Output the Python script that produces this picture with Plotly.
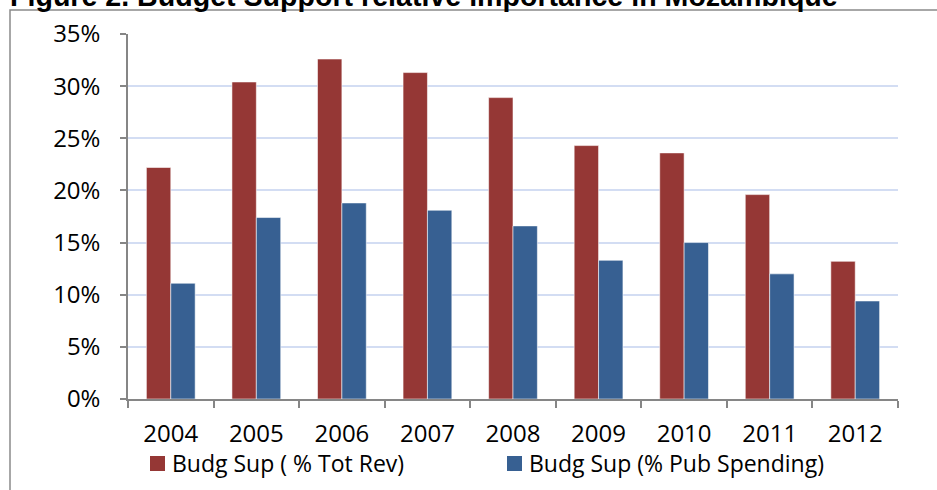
import plotly.graph_objects as go

years = ["2004", "2005", "2006", "2007", "2008", "2009", "2010", "2011", "2012"]
tot_rev = [22.2, 30.4, 32.6, 31.3, 28.9, 24.3, 23.6, 19.6, 13.2]
pub_spending = [11.1, 17.4, 18.8, 18.1, 16.6, 13.3, 15.0, 12.0, 9.4]
y_ticks = [0, 5, 10, 15, 20, 25, 30, 35]
y_tick_labels = ["0%", "5%", "10%", "15%", "20%", "25%", "30%", "35%"]
series_names = ["Budg Sup ( % Tot Rev)", "Budg Sup (% Pub Spending)"]
series_colors = ["#953735", "#376092"]
title_text = "Figure 2. Budget Support relative importance in Mozambique"

FONT = "Open Sans"
W, H = 937, 490
ML, MR, MT, MB = 128, 39, 34, 91
PW, PH = W - ML - MR, H - MT - MB


def px_x(p):
    return (p - ML) / PW


def px_y(p):
    return (H - MB - p) / PH


fig = go.Figure()
for vals, name, col in zip([tot_rev, pub_spending], series_names, series_colors):
    fig.add_trace(go.Bar(
        x=years, y=vals, name=name,
        marker=dict(color=col, line=dict(color="rgba(255,255,255,0.55)", width=1)),
    ))

# legend drawn as layout items (square + label)
legend_shapes = []
legend_annots = []
legend_sq_left = [150, 507]
for i, (name, col) in enumerate(zip(series_names, series_colors)):
    x0 = legend_sq_left[i]
    legend_shapes.append(dict(
        type="rect", xref="paper", yref="paper",
        x0=px_x(x0), x1=px_x(x0 + 15), y0=px_y(471), y1=px_y(456),
        fillcolor=col, line=dict(width=0),
    ))
    legend_annots.append(dict(
        text=name, xref="paper", yref="paper",
        x=px_x(x0 + 20), y=px_y(463), xanchor="left", yanchor="middle",
        showarrow=False, font=dict(family=FONT, size=23, color="black"),
    ))

fig.update_layout(
    width=W, height=H,
    margin=dict(l=ML, r=MR, t=MT, b=MB, pad=0),
    paper_bgcolor="white", plot_bgcolor="white",
    barmode="group", bargap=0.43, bargroupgap=0,
    font=dict(family=FONT, size=24, color="black"),
    showlegend=False,
    xaxis=dict(
        type="category", showgrid=False, showline=True, linecolor="#868686", linewidth=1.5,
        ticks="outside", ticklen=7, tickcolor="#868686", tickwidth=1.5,
        tickson="boundaries", tickfont=dict(family=FONT, size=24),
        ticklabelstandoff=12, fixedrange=True,
    ),
    yaxis=dict(
        range=[0, 35], tickvals=y_ticks, ticktext=y_tick_labels,
        showgrid=True, gridcolor="#d3ddf3", gridwidth=1.5,
        showline=True, linecolor="#868686", linewidth=1.5,
        ticks="outside", ticklen=6, tickcolor="#868686", tickwidth=1.5,
        tickfont=dict(family=FONT, size=24), zeroline=False,
        ticklabelstandoff=15, fixedrange=True,
    ),
    shapes=[dict(
        type="rect", xref="paper", yref="paper", layer="below",
        x0=px_x(10), x1=px_x(960), y0=px_y(520), y1=px_y(10),
        line=dict(color="#8a8a8a", width=1.5), fillcolor="rgba(0,0,0,0)",
    )] + legend_shapes,
    annotations=[dict(
        text=title_text, xref="paper", yref="paper",
        x=px_x(8), y=1, xanchor="left", yanchor="bottom", yshift=20,
        showarrow=False,
        font=dict(family="Liberation Sans", size=28.6, color="black", weight="bold"),
    )] + legend_annots,
)

fig.write_html(
    "out.html",
    config={"displayModeBar": False},
    post_script="document.body.style.margin='0px';",
)
